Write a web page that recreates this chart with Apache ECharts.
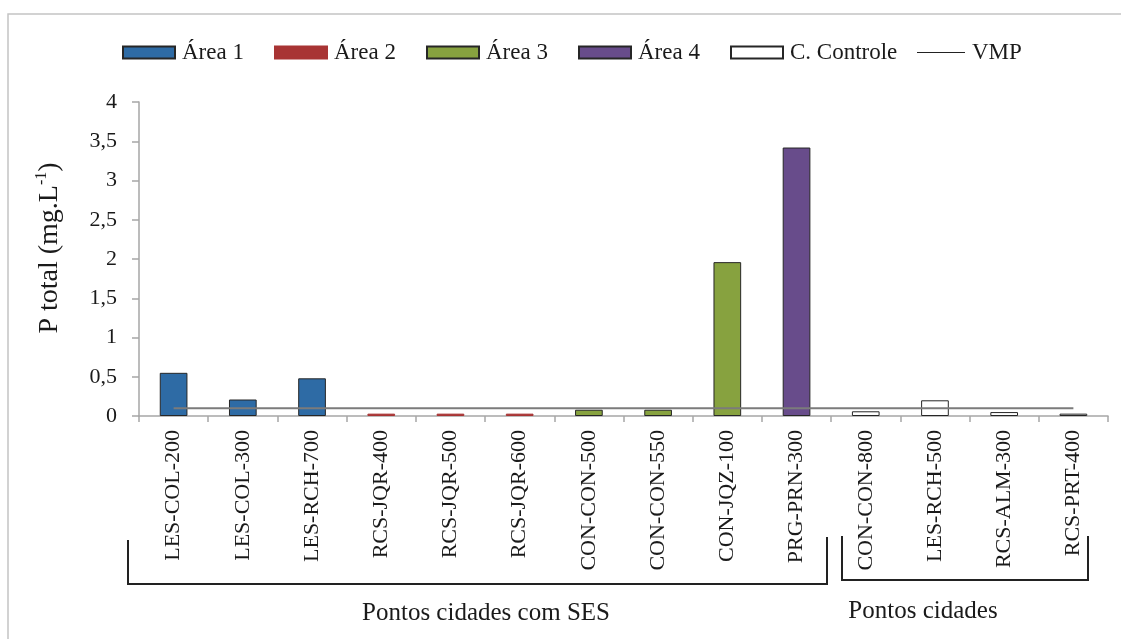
<!DOCTYPE html>
<html>
<head>
<meta charset="utf-8">
<script src="https://cdn.jsdelivr.net/npm/echarts@6/dist/echarts.min.js"></script>
<style>
  html, body { margin: 0; padding: 0; background: #ffffff; }
  #chart { width: 1121px; height: 639px; }
</style>
</head>
<body>
<div id="chart"></div>
<script>
// Sampling points
const categories = [
  'LES-COL-200', 'LES-COL-300', 'LES-RCH-700', 'RCS-JQR-400', 'RCS-JQR-500',
  'RCS-JQR-600', 'CON-CON-500', 'CON-CON-550', 'CON-JQZ-100', 'PRG-PRN-300',
  'CON-CON-800', 'LES-RCH-500', 'RCS-ALM-300', 'RCS-PRT-400'
];

// P total (mg.L-1) per area; '-' where the point belongs to another group
const area1 = [0.55, 0.21, 0.48, '-', '-', '-', '-', '-', '-', '-', '-', '-', '-', '-'];
const area2 = ['-', '-', '-', 0.03, 0.03, 0.03, '-', '-', '-', '-', '-', '-', '-', '-'];
const area3 = ['-', '-', '-', '-', '-', '-', 0.08, 0.08, 1.96, '-', '-', '-', '-', '-'];
const area4 = ['-', '-', '-', '-', '-', '-', '-', '-', '-', 3.42, '-', '-', '-', '-'];
const controle = ['-', '-', '-', '-', '-', '-', '-', '-', '-', '-', 0.06, 0.20, 0.05, 0.03];

// Maximum permitted value (VMP)
const vmp = [0.1, 0.1, 0.1, 0.1, 0.1, 0.1, 0.1, 0.1, 0.1, 0.1, 0.1, 0.1, 0.1, 0.1];

const yTicks = { min: 0, max: 4, interval: 0.5 };

const FONT = '"Liberation Serif", "Times New Roman", serif';
const TXT = '#1a1a1a';
const AXIS = '#a6a6a6';
const EDGE = '#262626';

function barSeries(name, data, fill, border) {
  return {
    name: name,
    type: 'bar',
    stack: 'pts',
    data: data,
    barWidth: '40%',
    itemStyle: { color: fill, borderColor: border, borderWidth: 1 }
  };
}

function legendAt(name, left, extra) {
  return Object.assign({
    data: [{ name: name, icon: 'rect' }],
    left: left,
    top: 36,
    itemWidth: 52,
    itemHeight: 12,
    textStyle: { fontFamily: FONT, fontSize: 23, color: TXT, padding: [0, 0, 0, 2] },
    selectedMode: false
  }, extra || {});
}

const chart = echarts.init(document.getElementById('chart'), null, { renderer: 'canvas' });

chart.setOption({
  backgroundColor: '#ffffff',
  animation: false,
  legend: [
    legendAt('Área 1', 117),
    legendAt('Área 2', 269),
    legendAt('Área 3', 421),
    legendAt('Área 4', 573),
    legendAt('C. Controle', 725),
    legendAt('VMP', 912, {
      itemWidth: 48,
      itemHeight: 1,
      data: [{ name: 'VMP', icon: 'path://M0,0L48,0L48,1L0,1Z', itemStyle: { color: '#222222' } }]
    })
  ],
  grid: { left: 139, right: 13, top: 102, bottom: 223, containLabel: false },
  xAxis: {
    type: 'category',
    data: categories,
    boundaryGap: true,
    axisLine: { lineStyle: { color: AXIS, width: 1.5 } },
    axisTick: { show: true, length: 6, lineStyle: { color: AXIS, width: 1.5 } },
    axisLabel: {
      rotate: 90,
      margin: 14,
      interval: 0,
      fontFamily: FONT,
      fontSize: 22,
      color: TXT
    }
  },
  yAxis: {
    type: 'value',
    min: yTicks.min,
    max: yTicks.max,
    interval: yTicks.interval,
    axisLine: { show: true, lineStyle: { color: AXIS, width: 1.5 } },
    axisTick: { show: true, length: 7, lineStyle: { color: AXIS, width: 1.5 } },
    splitLine: { show: false },
    axisLabel: {
      margin: 22,
      fontFamily: FONT,
      fontSize: 22,
      color: TXT,
      formatter: function (v) { return String(v).replace('.', ','); }
    }
  },
  series: [
    barSeries('Área 1', area1, '#2e6ba5', EDGE),
    barSeries('Área 2', area2, '#a83434', '#a83434'),
    barSeries('Área 3', area3, '#87a23f', EDGE),
    barSeries('Área 4', area4, '#684c8b', EDGE),
    barSeries('C. Controle', controle, '#ffffff', EDGE),
    {
      name: 'VMP',
      type: 'line',
      data: vmp,
      symbol: 'none',
      z: 5,
      lineStyle: { color: '#7b7b7b', width: 2 },
      itemStyle: { color: '#222222' }
    }
  ],
  graphic: [
    // outer frame
    {
      type: 'polyline',
      shape: { points: [[8, 700], [8, 14], [1130, 14]] },
      style: { stroke: '#c4c4c4', lineWidth: 1.5, fill: null },
      silent: true
    },
    // y-axis title
    {
      type: 'text',
      x: 49,
      y: 248,
      rotation: Math.PI / 2,
      style: {
        text: '{a|P total (mg.L}{s|-1}{a|)}',
        align: 'center',
        verticalAlign: 'middle',
        rich: {
          a: { fontFamily: FONT, fontSize: 28, fill: TXT, color: TXT, lineHeight: 30, verticalAlign: 'bottom' },
          s: { fontFamily: FONT, fontSize: 16, fill: TXT, color: TXT, lineHeight: 30, verticalAlign: 'top', padding: [0, 0, 6, 0] }
        }
      },
      silent: true
    },
    // group brackets
    {
      type: 'polyline',
      shape: { points: [[128, 540], [128, 584], [827, 584], [827, 537]] },
      style: { stroke: '#222222', lineWidth: 2, fill: null },
      silent: true
    },
    {
      type: 'polyline',
      shape: { points: [[842, 536], [842, 580], [1088, 580], [1088, 536]] },
      style: { stroke: '#222222', lineWidth: 2, fill: null },
      silent: true
    },
    {
      type: 'text',
      x: 486,
      y: 613,
      style: {
        text: 'Pontos cidades com SES',
        font: '25px ' + FONT,
        fill: TXT,
        align: 'center',
        verticalAlign: 'middle'
      },
      silent: true
    },
    {
      type: 'text',
      x: 923,
      y: 611,
      style: {
        text: 'Pontos cidades',
        font: '25px ' + FONT,
        fill: TXT,
        align: 'center',
        verticalAlign: 'middle'
      },
      silent: true
    }
  ]
});
</script>
</body>
</html>
